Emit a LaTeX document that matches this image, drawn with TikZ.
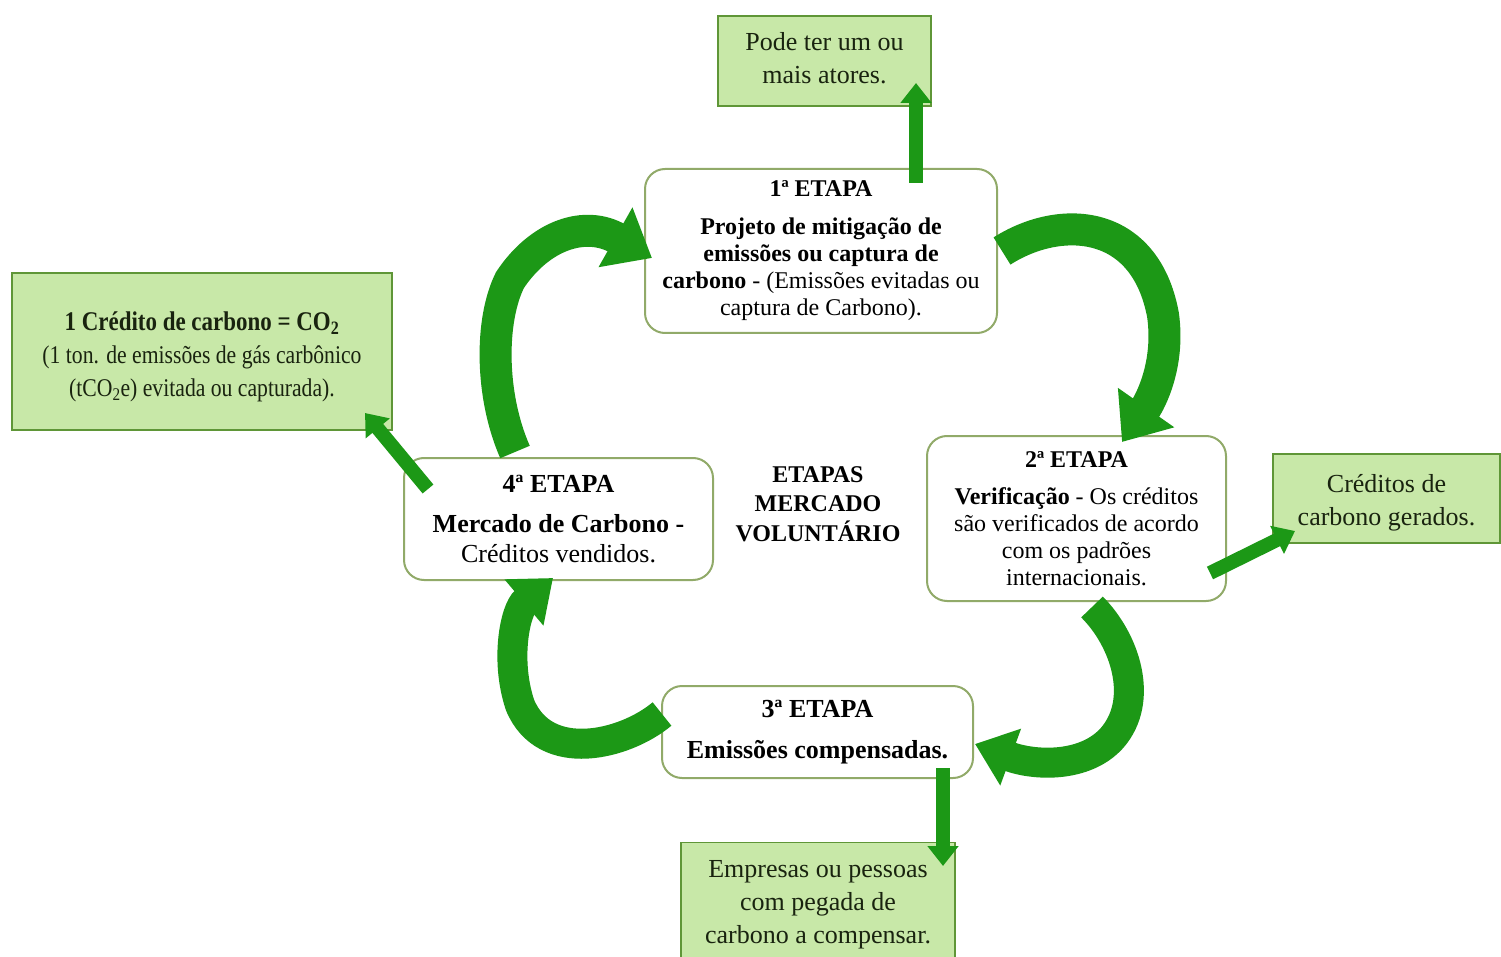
\documentclass[tikz,border=0pt]{standalone}
\usepackage{fontspec}
\setmainfont{Liberation Serif}
\newfontfamily\condfont[FakeStretch=0.85]{Liberation Serif}
\usetikzlibrary{arrows.meta}
\definecolor{arrowgreen}{RGB}{28,152,22}
\definecolor{boxborder}{RGB}{145,170,105}
\definecolor{lightgreen}{RGB}{200,232,168}
\definecolor{greenborder}{RGB}{95,150,55}
\definecolor{textdark}{RGB}{25,35,15}
\begin{document}
\begin{tikzpicture}[x=1pt,y=-1pt,
  stage/.style={draw=boxborder, line width=2pt, fill=white, rounded corners=20pt, align=center, inner sep=0pt},
  note/.style={draw=greenborder, line width=1.5pt, fill=lightgreen, align=center, inner sep=0pt, text=textdark},
  straightarrow/.style={draw=arrowgreen, line width=14pt, -{Triangle[width=30pt,length=20pt]}},
  bigcurve/.style={draw=arrowgreen, line width=32pt, -{Triangle[width=66pt,length=42pt]}},
  smallcurve/.style={draw=arrowgreen, line width=30pt, -{Triangle[width=58pt,length=38pt]}}]
\fill[white] (0,0) rectangle (1501,957);
\useasboundingbox (0,0) rectangle (1501,957);

% stage boxes
\node[stage, minimum width=352pt, minimum height=164pt, font=\fontsize{24}{27}\selectfont] (s1) at (821,251)
  {\textbf{1ª ETAPA}\\[11pt] \textbf{Projeto de mitigação de}\\ \textbf{emissões ou captura de}\\ \textbf{carbono} - (Emissões evitadas ou\\ captura de Carbono).};
\node[stage, minimum width=299pt, minimum height=165pt, font=\fontsize{24}{27}\selectfont] (s2) at (1076.5,518.5)
  {\textbf{2ª ETAPA}\\[10pt] \textbf{Verificação} - Os créditos\\ são verificados de acordo\\ com os padrões\\ internacionais.};
\node[stage, minimum width=311pt, minimum height=92pt, font=\fontsize{26}{30}\selectfont] (s3) at (817.5,732)
  {\textbf{3ª ETAPA}\\[11pt] \textbf{Emissões compensadas.}};
\node[stage, minimum width=309pt, minimum height=122pt, font=\fontsize{26}{30}\selectfont] (s4) at (558.5,519)
  {\textbf{4ª ETAPA}\\[10pt] \textbf{Mercado de Carbono -}\\ Créditos vendidos.};
\node[font=\bfseries\fontsize{24}{29.5}\selectfont, align=center] (title) at (818,504) {ETAPAS\\MERCADO\\VOLUNTÁRIO};

% notes
\node[note, minimum width=213pt, minimum height=90pt, font=\fontsize{26}{33}\selectfont] (n1) at (824.5,61) {};
\node[text=textdark, align=center, font=\fontsize{26}{33}\selectfont] (n1text) at (824.5,58)
  {Pode ter um ou\\ mais atores.};
\node[note, minimum width=380pt, minimum height=157pt] (n4) at (202,351.5) {};
\node[text=textdark, align=center, font=\condfont\fontsize{25.5}{33}\selectfont] (n4text) at (202,357)
  {{\fontsize{27}{33}\selectfont\bfseries 1 Crédito de carbono = CO\textsubscript{2}}\\ (1 ton. de emissões de gás carbônico\\ (tCO\textsubscript{2}e) evitada ou capturada).};
\node[note, minimum width=227pt, minimum height=89pt] (n2) at (1386.5,498.5) {};
\node[text=textdark, align=center, font=\fontsize{26}{33}\selectfont] (n2text) at (1386.5,502.5)
  {Créditos de\\ carbono gerados.};
\node[note, minimum width=274pt, minimum height=125pt, font=\fontsize{26}{33}\selectfont] (n3) at (818,905)
  {Empresas ou pessoas\\ com pegada de\\ carbono a compensar.};

% straight arrows
\coordinate (u1) at (916,183); \coordinate (u2) at (916,83);
\coordinate (l1) at (428,489); \coordinate (l2) at (365,413);
\coordinate (r1) at (1210,573); \coordinate (r2) at (1295,531);
\coordinate (d1) at (943,768); \coordinate (d2) at (943,866);
\draw[straightarrow] (u1) -- (u2);
\draw[straightarrow] (l1) -- (l2);
\draw[straightarrow] (r1) -- (r2);
\draw[straightarrow] (d1) -- (d2);

% curved arrows
\coordinate (ca1) at (515,452); \coordinate (ca2) at (652,258);
\coordinate (cb1) at (1002,251); \coordinate (cb2) at (1122,442);
\coordinate (cc1) at (1092,607); \coordinate (cc2) at (975,744);
\coordinate (cd1) at (662,714); \coordinate (cd2) at (553,578);
\draw[bigcurve] (ca1) .. controls (490,395) and (490,320) .. (510,280) .. controls (540,235) and (585,220) .. (ca2);
\draw[bigcurve] (cb1) .. controls (1060,214) and (1145,218) .. (1163,315) .. controls (1170,365) and (1150,402) .. (cb2);
\draw[smallcurve] (cc1) .. controls (1125,640) and (1145,700) .. (1112,738) .. controls (1085,768) and (1035,766) .. (cc2);
\draw[smallcurve] (cd1) .. controls (625,745) and (545,765) .. (520,705) .. controls (505,660) and (515,610) .. (cd2);
\end{tikzpicture}
\end{document}
